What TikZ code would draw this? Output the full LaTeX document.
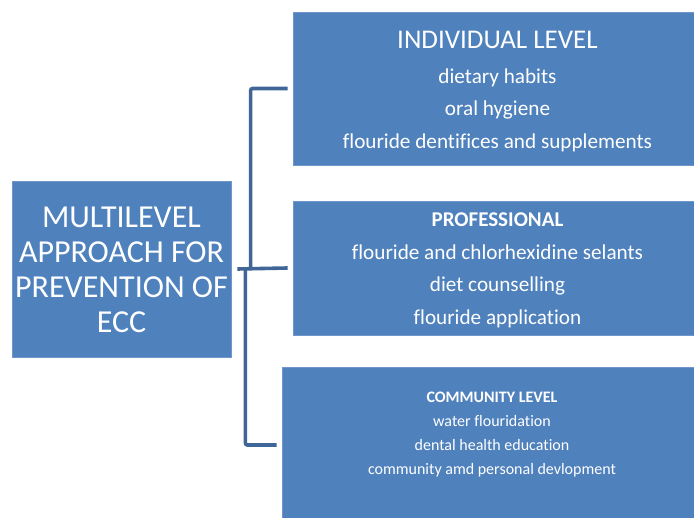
\documentclass[tikz,border=0pt]{standalone}
\usepackage{fontspec}
\setmainfont{Carlito}[Ligatures=NoCommon]
\usetikzlibrary{positioning,calc}
\definecolor{boxblue}{RGB}{79,129,189}
\definecolor{boxline}{RGB}{112,150,204}
\definecolor{linkblue}{RGB}{63,102,150}
\tikzset{
  levelbox/.style={
    draw=boxline,
    line width=0.8pt,
    fill=boxblue,
    rectangle,
    inner sep=0pt
  },
  boxtext/.style={text=white, align=center, inner sep=0pt},
  bigtext/.style={boxtext, font=\fontsize{32}{35}\selectfont},
  midtext/.style={boxtext, font=\fontsize{21.2}{32.6}\selectfont},
  smalltext/.style={boxtext, font=\fontsize{16}{24}\selectfont},
  link/.style={draw=linkblue, line width=3.6pt, rounded corners=2pt}
}
\begin{document}
\begin{tikzpicture}[x=1pt, y=-1pt]
  \clip (0,0) rectangle (694,518);
  % main box and the three levels
  \node[levelbox, minimum width=219pt, minimum height=176pt] (main) at (121.5,269) {};
  \node[bigtext] (maintext) at ($(main.center)+(0,1)$)
    {MULTILEVEL\\APPROACH FOR\\PREVENTION OF\\ECC};
  \node[levelbox, minimum width=409pt, minimum height=153pt] (indiv) at (497.5,88.5) {};
  \node[midtext] (indivtext) at ($(indiv.center)+(0,3)$)
    {{\fontsize{27}{32.6}\selectfont INDIVIDUAL LEVEL}\\[2.5pt]dietary habits\\oral hygiene\\flouride dentifices and supplements};
  \node[levelbox, minimum width=409pt, minimum height=134pt] (prof) at (497.5,268) {};
  \node[midtext] (proftext) at ($(prof.center)+(0,2.5)$)
    {{\fontsize{21}{32.6}\selectfont\bfseries PROFESSIONAL}\\flouride and chlorhexidine selants\\diet counselling\\flouride application};
  \node[levelbox, minimum width=420pt, minimum height=163pt] (comm) at (492,448.5) {};
  \node[smalltext] (commtext) at ($(comm.north)+(0,68)$)
    {\textbf{COMMUNITY LEVEL}\\water flouridation\\dental health education\\community amd personal devlopment};
  % bracket
  \coordinate (hub) at ($(main.east)+(6,0)$);
  \draw[link] (hub) -- ($(prof.west)+(-5,0)$);
  \draw[link] ($(prof.west)+(-42,0)$) |- ($(indiv.west)+(-5,0)$);
  \draw[link] ($(hub)+(8,0)$) |- ($(comm.west)+(-5,-3.5)$);
\end{tikzpicture}
\end{document}
